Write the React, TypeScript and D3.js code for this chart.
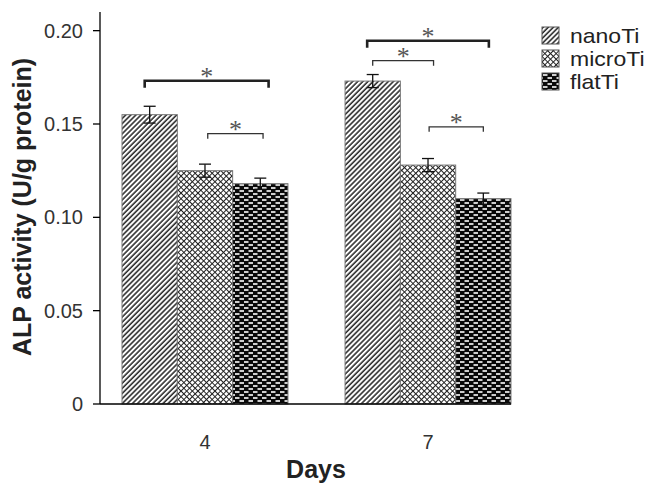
import React from "react";
import * as d3 from "d3";

const days = ["4", "7"];
const series = ["nanoTi", "microTi", "flatTi"];
// mean ALP activity per day, one row per series
const nanoTi = [0.155, 0.173];
const microTi = [0.125, 0.128];
const flatTi = [0.118, 0.110];
const nanoErr = [0.0045, 0.0035];
const microErr = [0.0035, 0.0035];
const flatErr = [0.003, 0.003];
const yTicks = [0, 0.05, 0.1, 0.15, 0.2];

// significance brackets: day, from series (+ position in bar), to series, height
const brackets = [
  { day: "4", from: 0, fromAt: 0.41, to: 2, toAt: 0.65, y: 0.1732, thick: true },
  { day: "4", from: 1, fromAt: 0.55, to: 2, toAt: 0.55, y: 0.1448, thick: false },
  { day: "7", from: 0, fromAt: 0.4, to: 2, toAt: 0.6, y: 0.1946, thick: true },
  { day: "7", from: 0, fromAt: 0.5, to: 1, toAt: 0.6, y: 0.1839, thick: false },
  { day: "7", from: 1, fromAt: 0.52, to: 2, toAt: 0.5, y: 0.1485, thick: false },
];

const values = [nanoTi, microTi, flatTi];
const errors = [nanoErr, microErr, flatErr];
const fills = ["url(#pNano)", "url(#pMicro)", "url(#pFlat)"];

export default function App() {
  const width = 662, height = 495;
  const left = 100, bottom = 404;

  const x = d3.scaleBand().domain(days).range([left, 533]).paddingInner(0.256).paddingOuter(0.0987);
  const xs = d3.scaleBand().domain(series).range([0, x.bandwidth()]);
  const y = d3.scaleLinear().domain([0, 0.21]).range([bottom, 12]);
  const fmt = (d: number) => (d === 0 ? "0" : d3.format(".2f")(d));
  const xEnd = (x("7") as number) + x.bandwidth();

  const barX = (day: string, si: number) => (x(day) as number) + (xs(series[si]) as number);

  return (
    <svg width={width} height={height} style={{ position: "absolute", left: 0, top: 0 }}>
      <defs>
        <pattern id="pNano" width="3.6" height="3.6" patternUnits="userSpaceOnUse" patternTransform="rotate(45)">
          <rect width="3.6" height="3.6" fill="#fff" />
          <line x1="1" y1="0" x2="1" y2="3.6" stroke="#111" strokeWidth="1.4" />
        </pattern>
        <pattern id="pMicro" width="4" height="4" patternUnits="userSpaceOnUse" patternTransform="rotate(45)">
          <rect width="4" height="4" fill="#fff" />
          <line x1="0.5" y1="0" x2="0.5" y2="4" stroke="#222" strokeWidth="1" />
          <line x1="0" y1="0.5" x2="4" y2="0.5" stroke="#222" strokeWidth="1" />
        </pattern>
        <pattern id="pFlat" width="9" height="6" patternUnits="userSpaceOnUse">
          <rect width="9" height="6" fill="#0a0a0a" />
          <rect x="1" y="1.2" width="4.5" height="1.6" fill="#fff" />
          <rect x="5.5" y="4.2" width="3.5" height="1.6" fill="#fff" />
          <rect x="0" y="4.2" width="1" height="1.6" fill="#fff" />
        </pattern>
      </defs>

      {/* bars */}
      {days.map((day, di) =>
        series.map((s, si) => (
          <rect
            key={day + s}
            x={barX(day, si)}
            y={y(values[si][di])}
            width={xs.bandwidth()}
            height={bottom - y(values[si][di])}
            fill={fills[si]}
            stroke="#777"
            strokeWidth={1}
          />
        ))
      )}

      {/* error bars */}
      {days.map((day, di) =>
        series.map((s, si) => {
          const cx = barX(day, si) + xs.bandwidth() / 2;
          const v = values[si][di], e = errors[si][di];
          return (
            <g key={"e" + day + s} stroke="#111" strokeWidth={1.3}>
              <line x1={cx} x2={cx} y1={y(v + e)} y2={y(v - e)} />
              <line x1={cx - 6} x2={cx + 6} y1={y(v + e)} y2={y(v + e)} />
              <line x1={cx - 6} x2={cx + 6} y1={y(v - e)} y2={y(v - e)} />
            </g>
          );
        })
      )}

      {/* significance brackets */}
      {brackets.map((b, i) => {
        const x1 = barX(b.day, b.from) + xs.bandwidth() * b.fromAt;
        const x2 = barX(b.day, b.to) + xs.bandwidth() * b.toAt;
        const yy = y(b.y);
        const drop = b.thick ? 7 : 5;
        return (
          <g key={"b" + i}>
            <path
              d={`M${x1},${yy + drop}V${yy}H${x2}V${yy + drop}`}
              fill="none"
              stroke={b.thick ? "#222" : "#333"}
              strokeWidth={b.thick ? 2.6 : 1.3}
            />
            <text x={(x1 + x2) / 2} y={yy + 4} textAnchor="middle" fontFamily="Liberation Serif" fontSize={26} fill="#555">
              *
            </text>
          </g>
        );
      })}

      {/* axes */}
      <line x1={left} x2={left} y1={y(0.21)} y2={bottom} stroke="#000" strokeWidth={1.3} />
      <line x1={left} x2={xEnd} y1={bottom} y2={bottom} stroke="#000" strokeWidth={1.3} />
      {yTicks.map((t) => (
        <g key={"t" + t}>
          <line x1={left - 7} x2={left} y1={y(t)} y2={y(t)} stroke="#000" strokeWidth={1.3} />
          <text x={left - 17} y={y(t)} dy="0.35em" textAnchor="end" fontFamily="Liberation Sans" fontSize={20} fill="#333">
            {fmt(t)}
          </text>
        </g>
      ))}
      {days.map((day) => (
        <text key={"d" + day} x={(x(day) as number) + x.bandwidth() / 2} y={449} textAnchor="middle" fontFamily="Liberation Sans" fontSize={20} fill="#333">
          {day}
        </text>
      ))}

      <text x={316} y={478} textAnchor="middle" fontFamily="Liberation Sans" fontWeight="bold" fontSize={25} fill="#222">
        Days
      </text>
      <text transform="translate(31,207) rotate(-90)" textAnchor="middle" fontFamily="Liberation Sans" fontWeight="bold" fontSize={25} fill="#222">
        ALP activity (U/g protein)
      </text>

      {/* legend */}
      {series.map((s, i) => (
        <g key={"l" + s} transform={`translate(542,${27 + i * 23})`}>
          <rect width={17} height={17} fill={fills[i]} stroke="#555" strokeWidth={1} />
          <text transform="translate(28,8.5) scale(1.15,1)" dy="0.35em" fontFamily="Liberation Sans" fontSize={20} fill="#222">
            {s}
          </text>
        </g>
      ))}
    </svg>
  );
}
